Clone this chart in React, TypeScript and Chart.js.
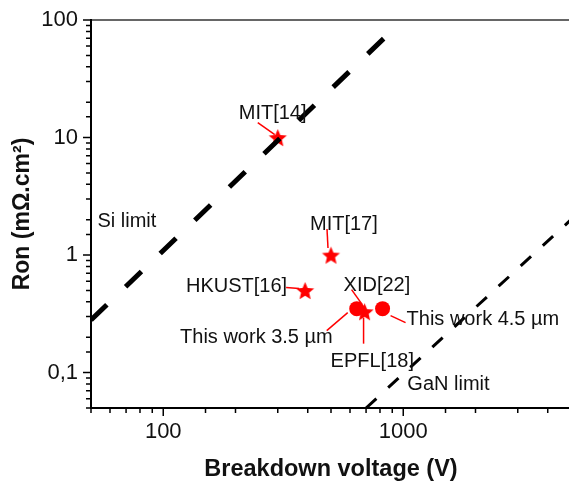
import React, { useEffect, useRef } from 'react';
import { Chart, registerables } from 'chart.js';

Chart.register(...registerables);

// ---- data ----
const xRange = [50, 5000];
const yRange = [0.05, 100];
const xTickValues = [100, 1000];
const xTickLabels = ['100', '1000'];
const yTickValues = [0.1, 1, 10, 100];
const yTickLabels = ['0,1', '1', '10', '100'];

const siLimitV = [50, 850];
const siLimitRon = [0.28, 73];
const ganLimitV = [700, 5000];
const ganLimitRon = [0.05, 2.0];

const refV = [300, 500, 390, 690];
const refRon = [10, 1, 0.5, 0.33];
const workV = [640, 820];
const workRon = [0.35, 0.35];

const annoText = ['MIT[14]', 'MIT[17]', 'HKUST[16]', 'XID[22]', 'EPFL[18]', 'This work 3.5 µm', 'This work 4.5 µm'];
const annoV = [300, 500, 390, 690, 690, 640, 820];
const annoRon = [10, 1, 0.5, 0.33, 0.33, 0.35, 0.35];

const limitText = ['Si limit', 'GaN limit'];
const limitV = [53.2, 1040];
const limitRon = [1.95, 0.079];

// ---- layout of annotation text/leaders (pixel offsets from anchor) ----
const annoLayout: { dx: number; dy: number; align: CanvasTextAlign; lead: number[] }[] = [
  { dx: -39, dy: -24, align: 'left', lead: [-20, -15, -3, -3] },
  { dx: -21, dy: -31, align: 'left', lead: [-4, -26, -3, -7] },
  { dx: -18, dy: -4, align: 'right', lead: [-19, -3, -6, -2] },
  { dx: -21, dy: -26, align: 'left', lead: [-13, -22, -3, -8] },
  { dx: -34, dy: 50, align: 'left', lead: [-1, 6, -1, 32] },
  { dx: -24, dy: 29, align: 'right', lead: [-30, 22, -9, 4] },
  { dx: 24, dy: 11, align: 'left', lead: [8, 7, 23, 14] },
];

const FONT = "'Liberation Sans', Arial, sans-serif";

function makeStar(r: number, color: string) {
  const c = document.createElement('canvas');
  const s = Math.ceil(r * 2 + 2);
  c.width = s;
  c.height = s;
  const ctx = c.getContext('2d')!;
  ctx.fillStyle = color;
  ctx.beginPath();
  for (let i = 0; i < 10; i++) {
    const rad = i % 2 === 0 ? r : r * 0.45;
    const a = -Math.PI / 2 + (i * Math.PI) / 5;
    ctx.lineTo(s / 2 + rad * Math.cos(a), s / 2 + 1 + rad * Math.sin(a));
  }
  ctx.closePath();
  ctx.fill();
  return c;
}

const isPow10 = (v: number) => Math.abs(Math.log10(v) - Math.round(Math.log10(v))) < 1e-6;
const labelFor = (vals: number[], labels: string[], v: number) => {
  for (let i = 0; i < vals.length; i++) if (Math.abs(vals[i] - v) / vals[i] < 1e-6) return labels[i];
  return '';
};

const axesPlugin = {
  id: 'axesDraw',
  afterDraw(chart: any) {
    const { ctx, chartArea: a, scales } = chart;
    const x = scales.x;
    const y = scales.y;
    ctx.save();
    ctx.lineCap = 'butt';
    ctx.strokeStyle = '#666';
    ctx.lineWidth = 2;
    ctx.beginPath();
    ctx.moveTo(a.left, a.top);
    ctx.lineTo(a.right, a.top);
    ctx.stroke();
    ctx.strokeStyle = '#000';
    ctx.beginPath();
    ctx.moveTo(a.left, a.top - 1);
    ctx.lineTo(a.left, a.bottom + 1);
    ctx.moveTo(a.left - 1, a.bottom);
    ctx.lineTo(a.right, a.bottom);
    ctx.stroke();
    ctx.lineWidth = 1.5;
    ctx.beginPath();
    y.ticks.forEach((t: any) => {
      const p = y.getPixelForValue(t.value);
      const len = isPow10(t.value) ? 8 : 5;
      ctx.moveTo(a.left - len, p);
      ctx.lineTo(a.left, p);
    });
    x.ticks.forEach((t: any) => {
      const p = x.getPixelForValue(t.value);
      const len = isPow10(t.value) ? 8 : 5;
      ctx.moveTo(p, a.bottom);
      ctx.lineTo(p, a.bottom + len);
    });
    ctx.stroke();
    ctx.restore();
  },
};

const annoPlugin = {
  id: 'annoDraw',
  afterDatasetsDraw(chart: any) {
    const { ctx, scales } = chart;
    const x = scales.x;
    const y = scales.y;
    ctx.save();
    ctx.font = `20px ${FONT}`;
    ctx.textBaseline = 'middle';
    annoText.forEach((txt, i) => {
      const px = x.getPixelForValue(annoV[i]);
      const py = y.getPixelForValue(annoRon[i]);
      const L = annoLayout[i];
      ctx.strokeStyle = '#ff0000';
      ctx.lineWidth = 1.5;
      ctx.beginPath();
      ctx.moveTo(px + L.lead[0], py + L.lead[1]);
      ctx.lineTo(px + L.lead[2], py + L.lead[3]);
      ctx.stroke();
      ctx.fillStyle = '#111';
      ctx.textAlign = L.align;
      ctx.fillText(txt, px + L.dx, py + L.dy);
    });
    limitText.forEach((txt, i) => {
      ctx.fillStyle = '#111';
      ctx.textAlign = 'left';
      ctx.fillText(txt, x.getPixelForValue(limitV[i]), y.getPixelForValue(limitRon[i]));
    });
    ctx.restore();
  },
};

export default function App() {
  const ref = useRef<HTMLCanvasElement>(null);
  useEffect(() => {
    document.body.style.overflow = 'hidden';
    const star = makeStar(9.5, '#ff0000');
    const chart = new Chart(ref.current!, {
      type: 'scatter',
      data: {
        datasets: [
          {
            label: 'Si limit',
            data: siLimitV.map((v, i) => ({ x: v, y: siLimitRon[i] })),
            showLine: true,
            borderColor: '#000',
            borderWidth: 5,
            borderDash: [22, 26],
            pointRadius: 0,
          },
          {
            label: 'GaN limit',
            data: ganLimitV.map((v, i) => ({ x: v, y: ganLimitRon[i] })),
            showLine: true,
            borderColor: '#000',
            borderWidth: 3,
            borderDash: [14, 16],
            pointRadius: 0,
          },
          {
            label: 'References',
            data: refV.map((v, i) => ({ x: v, y: refRon[i] })),
            pointStyle: star as any,
            pointRadius: 10,
            backgroundColor: '#ff0000',
            borderWidth: 0,
          },
          {
            label: 'This work',
            data: workV.map((v, i) => ({ x: v, y: workRon[i] })),
            pointStyle: 'circle',
            pointRadius: 7.5,
            backgroundColor: '#ff0000',
            borderColor: '#ff0000',
            borderWidth: 0,
          },
        ],
      },
      options: {
        animation: false,
        responsive: false,
        devicePixelRatio: 1,
        layout: { autoPadding: false, padding: { top: 20, right: 0, left: 0, bottom: 0 } },
        plugins: { legend: { display: false }, tooltip: { enabled: false } },
        scales: {
          x: {
            type: 'logarithmic',
            min: xRange[0],
            max: xRange[1],
            border: { display: false },
            grid: { display: true, drawOnChartArea: false, drawTicks: true, tickLength: 8, color: 'rgba(0,0,0,0)', tickColor: 'rgba(0,0,0,0)' },
            ticks: {
              autoSkip: false,
              maxRotation: 0,
              padding: 3,
              color: '#111',
              font: { family: FONT, size: 22 },
              callback: (v: any) => labelFor(xTickValues, xTickLabels, Number(v)),
            },
            title: {
              display: true,
              text: 'Breakdown voltage (V)',
              color: '#111',
              font: { family: FONT, size: 23.5, weight: 'bold' },
              padding: { top: 0, bottom: 2 },
            },
            afterFit: (s: any) => {
              s.height = 78;
              s.paddingLeft = 0;
              s.paddingRight = 0;
            },
          },
          y: {
            type: 'logarithmic',
            min: yRange[0],
            max: yRange[1],
            border: { display: false },
            grid: { display: true, drawOnChartArea: false, drawTicks: true, tickLength: 8, color: 'rgba(0,0,0,0)', tickColor: 'rgba(0,0,0,0)' },
            ticks: {
              autoSkip: false,
              padding: 5,
              color: '#111',
              font: { family: FONT, size: 22 },
              callback: (v: any) => labelFor(yTickValues, yTickLabels, Number(v)),
            },
            title: {
              display: true,
              text: 'Ron (mΩ.cm²)',
              color: '#111',
              font: { family: FONT, size: 23, weight: 'bold' },
              padding: { top: 9, bottom: 0 },
            },
            afterFit: (s: any) => {
              s.width = 91;
            },
          },
        },
      },
      plugins: [axesPlugin, annoPlugin],
    });
    return () => chart.destroy();
  }, []);
  return (
    <div style={{ position: 'fixed', left: 0, top: 0, width: 571, height: 486, background: '#fff' }}>
      <canvas ref={ref} width={571} height={486} style={{ display: 'block' }} />
    </div>
  );
}
